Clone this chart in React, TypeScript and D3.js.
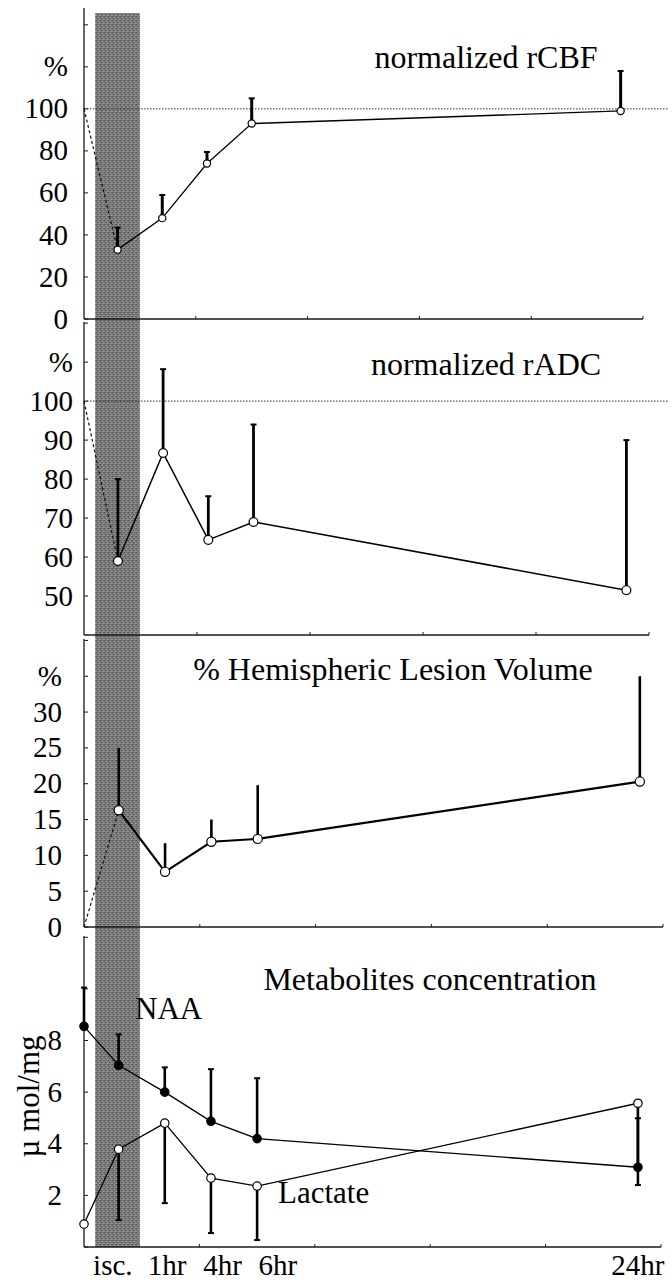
import React from 'react'
import * as d3 from 'd3'

// time points (pre-ischemia, ischemia, reperfusion times) and their place on the time axis
const times = ['pre', 'isc.', '1hr', '4hr', '6hr', '24hr']
const timePos = [0, 0.3, 0.7, 1.1, 1.5, 4.8]
const ischemiaSpan = [0.1, 0.5]

// bottom axis labels
const timeLabels = ['isc.', '1hr', '4hr', '6hr', '24hr']
const timeLabelPos = [0.25, 0.72, 1.2, 1.68, 4.8]

// normalized rCBF (%)
const rcbf = [100, 33, 48, 74, 93, 99]
const rcbfSD = [0, 10.5, 11, 5.5, 12, 19]
const rcbfTicks = [0, 20, 40, 60, 80, 100, 120, 140]
const rcbfTickText = ['0', '20', '40', '60', '80', '100', '%', '']

// normalized rADC (%)
const radc = [100, 59, 86.7, 64.4, 69, 51.5]
const radcSD = [0, 21, 21.5, 11.2, 25, 38.5]
const radcTicks = [50, 60, 70, 80, 90, 100, 110, 120]
const radcTickText = ['50', '60', '70', '80', '90', '100', '%', '']

// % hemispheric lesion volume
const lesion = [0, 16.3, 7.7, 11.9, 12.3, 20.3]
const lesionSD = [0, 8.7, 4, 3.1, 7.5, 14.7]
const lesionTicks = [0, 5, 10, 15, 20, 25, 30, 35, 40]
const lesionTickText = ['0', '5', '10', '15', '20', '25', '30', '%', '']

// metabolites (µmol/mg)
const naa = [8.55, 7.04, 6.0, 4.87, 4.2, 3.09]
const naaSD = [1.5, 1.2, 0.96, 2.02, 2.34, 1.9]
const lactate = [0.89, 3.79, 4.8, 2.67, 2.36, 5.57]
const lactateSD = [0, 2.75, 3.1, 2.13, 2.09, 3.17]
const metTicks = [0, 2, 4, 6, 8, 10, 12]
const metTickText = ['', '2', '4', '6', '8', '', '']

const W = 672
const H = 1284
const X0 = 84
const FONT = '"Liberation Serif", "Times New Roman", serif'

type Series = {
  values: number[]
  sd: number[]
  dir: 1 | -1
  filled?: boolean
  dashedFirst?: boolean
  r: number
  lineW: number
  barW: number
  cap: number
}

type PanelDef = {
  top: number
  bottom: number
  right: number
  domain: [number, number]
  ticks: number[]
  tickText: string[]
  labelGap: number
  title: string
  titleX: number
  titleY: number
  refLine?: number
  series: Series[]
  notes?: { text: string; x: number; y: number }[]
}

const panels: PanelDef[] = [
  {
    top: 8, bottom: 319, right: 643, domain: [0, 148],
    ticks: rcbfTicks, tickText: rcbfTickText, labelGap: 16,
    title: 'normalized rCBF', titleX: 486, titleY: 68, refLine: 100,
    series: [{ values: rcbf, sd: rcbfSD, dir: 1, dashedFirst: true, r: 3.6, lineW: 1.3, barW: 3, cap: 6 }],
  },
  {
    top: 322, bottom: 635, right: 649, domain: [40, 120.3],
    ticks: radcTicks, tickText: radcTickText, labelGap: 11,
    title: 'normalized rADC', titleX: 486, titleY: 375, refLine: 100,
    series: [{ values: radc, sd: radcSD, dir: 1, dashedFirst: true, r: 4.4, lineW: 1.5, barW: 2.8, cap: 6 }],
  },
  {
    top: 639, bottom: 927, right: 663, domain: [0, 40.2],
    ticks: lesionTicks, tickText: lesionTickText, labelGap: 22,
    title: '% Hemispheric Lesion Volume', titleX: 393, titleY: 680,
    series: [{ values: lesion, sd: lesionSD, dir: 1, dashedFirst: true, r: 4.6, lineW: 2.2, barW: 2.6, cap: 0 }],
  },
  {
    top: 936, bottom: 1247, right: 661, domain: [0, 12.05],
    ticks: metTicks, tickText: metTickText, labelGap: 22,
    title: 'Metabolites concentration', titleX: 430, titleY: 990,
    series: [
      { values: naa, sd: naaSD, dir: 1, filled: true, r: 4.2, lineW: 1.3, barW: 2.6, cap: 6 },
      { values: lactate, sd: lactateSD, dir: -1, r: 4.2, lineW: 1.3, barW: 2.6, cap: 6 },
    ],
    notes: [
      { text: 'NAA', x: 135, y: 1019 },
      { text: 'Lactate', x: 278, y: 1203 },
    ],
  },
]

function Panel({ p }: { p: PanelDef }) {
  const x = d3.scaleLinear().domain([0, 5]).range([X0, p.right])
  const y = d3.scaleLinear().domain(p.domain).range([p.bottom, p.top])
  const line = d3.line<number>().x((_, i) => x(timePos[i])).y((d) => y(d))

  return (
    <g>
      {/* reference line */}
      {p.refLine !== undefined && (
        <line x1={X0} x2={668} y1={y(p.refLine)} y2={y(p.refLine)}
          stroke="#333" strokeWidth={1} strokeDasharray="1.5,1.5" />
      )}

      {/* axes */}
      <line x1={X0} x2={X0} y1={p.top} y2={p.bottom} stroke="#1a1a1a" strokeWidth={1.3} />
      <line x1={X0} x2={p.right} y1={p.bottom} y2={p.bottom} stroke="#1a1a1a" strokeWidth={1.3} />
      {p.ticks.map((t) => (
        <line key={'yt' + t} x1={X0} x2={X0 + 4} y1={y(t)} y2={y(t)} stroke="#1a1a1a" strokeWidth={1} />
      ))}
      {x.ticks(5).filter((t) => t > 0).map((t) => (
        <line key={'xt' + t} x1={x(t)} x2={x(t)} y1={p.bottom} y2={p.bottom - 3} stroke="#1a1a1a" strokeWidth={1} />
      ))}
      {p.ticks.map((t, i) => (
        <text key={'yl' + t} x={X0 - p.labelGap} y={y(t)} dy="0.33em" textAnchor="end"
          fontFamily={FONT} fontSize={29}>{p.tickText[i]}</text>
      ))}

      {/* series */}
      {p.series.map((s, si) => (
        <g key={si}>
          {s.dashedFirst ? (
            <>
              <path d={line(s.values.slice(0, 2)) || ''} fill="none" stroke="#111" strokeWidth={1.2} strokeDasharray="3,2.5" />
              <path d={d3.line<number>().x((_, i) => x(timePos[i + 1])).y((d) => y(d))(s.values.slice(1)) || ''}
                fill="none" stroke="#000" strokeWidth={s.lineW} />
            </>
          ) : (
            <path d={line(s.values) || ''} fill="none" stroke="#000" strokeWidth={s.lineW} />
          )}
          {s.values.map((v, i) => {
            if (!s.sd[i]) return null
            const ye = y(v + s.dir * s.sd[i])
            return (
              <g key={'e' + i}>
                <line x1={x(timePos[i])} x2={x(timePos[i])} y1={y(v)} y2={ye} stroke="#000" strokeWidth={s.barW} />
                {s.cap > 0 && (
                  <line x1={x(timePos[i]) - s.cap / 2} x2={x(timePos[i]) + s.cap / 2} y1={ye} y2={ye}
                    stroke="#000" strokeWidth={2} />
                )}
              </g>
            )
          })}
          {s.values.map((v, i) => {
            if (s.dashedFirst && i === 0) return null
            return (
              <circle key={'c' + i} cx={x(timePos[i])} cy={y(v)} r={s.r}
                fill={s.filled ? '#000' : '#fff'} stroke="#000" strokeWidth={1.2} />
            )
          })}
        </g>
      ))}

      <text x={p.titleX} y={p.titleY} textAnchor="middle" fontFamily={FONT} fontSize={32}>{p.title}</text>
      {p.notes?.map((n) => (
        <text key={n.text} x={n.x} y={n.y} fontFamily={FONT} fontSize={31}>{n.text}</text>
      ))}
    </g>
  )
}

export default function App() {
  const xBand = d3.scaleLinear().domain([0, 5]).range([X0, panels[0].right])
  const xLast = d3.scaleLinear().domain([0, 5]).range([X0, panels[3].right])
  const last = panels[3]

  return (
    <svg width={W} height={H} style={{ position: 'absolute', left: 0, top: 0, background: '#fff' }}>
      <defs>
        <pattern id="grain" width="4" height="4" patternUnits="userSpaceOnUse">
          <rect width="4" height="4" fill="#7c7c7c" />
          <rect x="0" y="0" width="1" height="1" fill="#4e4e4e" />
          <rect x="2" y="1" width="1" height="1" fill="#a4a4a4" />
          <rect x="1" y="2" width="1" height="1" fill="#585858" />
          <rect x="3" y="3" width="1" height="1" fill="#9a9a9a" />
          <rect x="3" y="0" width="1" height="1" fill="#626262" />
          <rect x="0" y="3" width="1" height="1" fill="#909090" />
          <rect x="2" y="2" width="1" height="1" fill="#666" />
        </pattern>
      </defs>

      {/* ischemia period */}
      <rect x={xBand(ischemiaSpan[0])} y={13} width={xBand(ischemiaSpan[1]) - xBand(ischemiaSpan[0])}
        height={last.bottom - 13} fill="url(#grain)" />

      {panels.map((p, i) => <Panel key={i} p={p} />)}

      {timeLabels.map((t, i) => (
        <text key={t} x={xLast(timeLabelPos[i])} y={1275} textAnchor="middle" fontFamily={FONT} fontSize={29}>{t}</text>
      ))}

      <text transform={`translate(39, ${(last.bottom + last.top) / 2 + 5}) rotate(-90)`} textAnchor="middle"
        fontFamily={FONT} fontSize={31}>µ mol/mg</text>
      <title>{times.join(' ')}</title>
    </svg>
  )
}
